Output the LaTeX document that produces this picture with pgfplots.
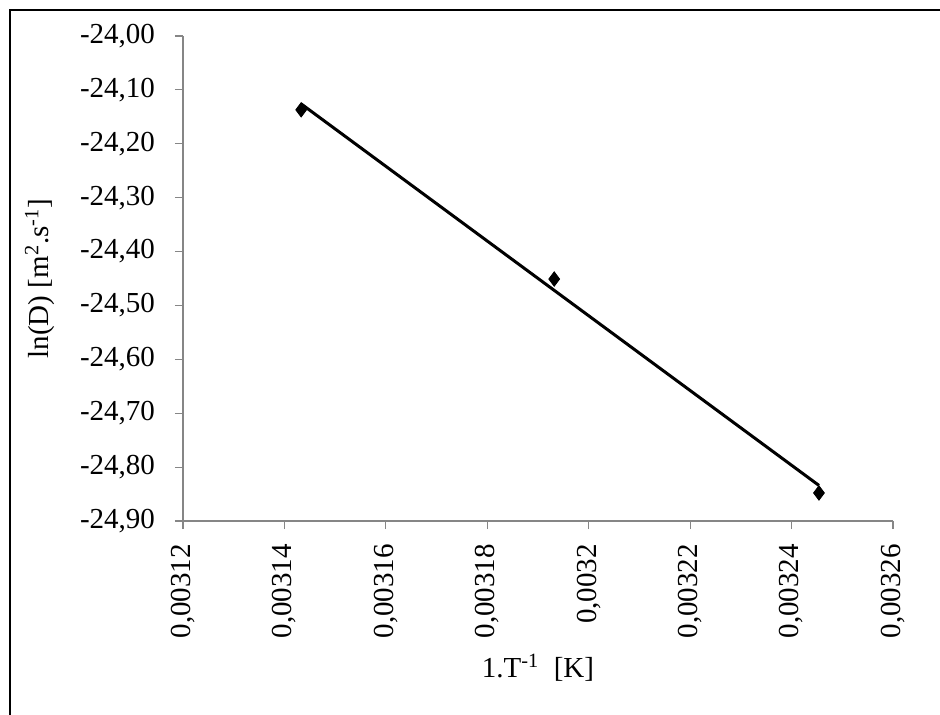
\documentclass[border=0pt]{standalone}
\usepackage{pgfplots}
\pgfplotsset{compat=1.18}
\usepackage{fontspec}
\setmainfont{Liberation Serif}
\definecolor{axgray}{RGB}{134,134,134}
\begin{document}
\begin{tikzpicture}
\useasboundingbox (-91.5pt,-97pt) rectangle (378.5pt,260.5pt);
\clip (-91.5pt,-97pt) rectangle (378.5pt,260.5pt);
\draw[line width=1pt] (-86.5pt,-120pt) rectangle (400pt,255.5pt);
\begin{axis}[
  at={(0pt,0pt)}, anchor=south west,
  scale only axis, width=355pt, height=242.5pt,
  xmin=0.00312, xmax=0.00326, ymin=-24.9, ymax=-24.0,
  axis x line*=bottom, axis y line*=left,
  axis line style={draw=axgray, line width=0.6pt},
  tick align=outside, major tick length=4pt,
  tick style={draw=axgray, line width=0.6pt},
  scaled x ticks=false, scaled y ticks=false,
  xtick={0.00312,0.00314,0.00316,0.00318,0.0032,0.00322,0.00324,0.00326},
  xticklabels={{0,00312},{0,00314},{0,00316},{0,00318},{0,0032},{0,00322},{0,00324},{0,00326}},
  ytick={-24.9,-24.8,-24.7,-24.6,-24.5,-24.4,-24.3,-24.2,-24.1,-24.0},
  yticklabels={{-24,90},{-24,80},{-24,70},{-24,60},{-24,50},{-24,40},{-24,30},{-24,20},{-24,10},{-24,00}},
  ticklabel style={font=\fontsize{14.5}{16}\selectfont},
  xticklabel style={rotate=90, anchor=east},
  xticklabel shift=4pt, yticklabel shift=6.5pt,
  label style={font=\fontsize{14.5}{16}\selectfont},
  xlabel={1.T\textsuperscript{-1}\ \ [K]},
  ylabel={ln(D) [m\textsuperscript{2}.s\textsuperscript{-1}]},
  xlabel style={at={(axis description cs:0.5,-0.303)}, anchor=center},
  ylabel style={at={(axis description cs:-0.2014,0.5)}, anchor=center},
  clip=false,
]
\addplot[black, line width=1.5pt, no marks] coordinates {
  (0.0031433,-24.126) (0.0032454,-24.834)
};
\addplot[only marks, mark=diamond*, mark size=3.6pt, black] coordinates {
  (0.0031433,-24.137) (0.0031932,-24.451) (0.0032454,-24.848)
};
\end{axis}
\end{tikzpicture}
\end{document}
